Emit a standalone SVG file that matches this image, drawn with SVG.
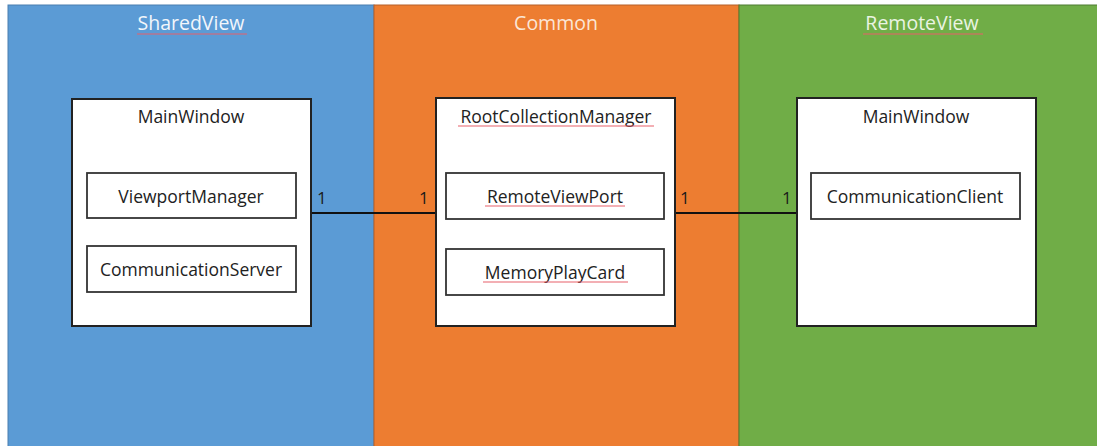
<svg xmlns="http://www.w3.org/2000/svg" width="1097" height="446" viewBox="0 0 1097 446">
  <style>
    .lane-title { font-family: "Open Sans", "Liberation Sans", sans-serif; font-size: 19.5px; text-anchor: middle; }
    .label { font-family: "Open Sans", "Liberation Sans", sans-serif; font-size: 17.5px; fill: #222222; text-anchor: middle; }
    .mult { font-family: "Open Sans", "Liberation Sans", sans-serif; font-size: 17px; fill: #1a1a1a; }
    .outer { fill: #ffffff; stroke: #222222; stroke-width: 2; }
    .inner { fill: #ffffff; stroke: #333333; stroke-width: 1.8; }
    .spell { fill: none; stroke: #e8606a; stroke-width: 1.2; }
    .link { stroke: #111111; stroke-width: 2; fill: none; }
  </style>

  <rect x="0" y="0" width="1097" height="446" fill="#ffffff"/>

  <!-- swim lanes -->
  <g id="lanes">
    <rect x="8" y="5" width="366" height="442" fill="#5B9BD5" stroke="#4a7fb0" stroke-width="1"/>
    <rect x="374" y="5" width="365" height="442" fill="#ED7D31" stroke="#b6602a" stroke-width="1"/>
    <rect x="739" y="5" width="359" height="442" fill="#70AD47" stroke="#4f7d33" stroke-width="1"/>
    <text class="lane-title" x="191" y="30" fill="#f2f6fb">SharedView</text>
    <path class="spell" d="M137 34 h110"/>
    <text class="lane-title" x="556" y="30" fill="#fbe6d6">Common</text>
    <text class="lane-title" x="922" y="30" fill="#eaf4e2">RemoteView</text>
    <path class="spell" d="M863 34 h120" stroke="#c8663a"/>
  </g>

  <!-- connectors -->
  <g id="connectors">
    <line class="link" x1="311" y1="213" x2="436" y2="213"/>
    <line class="link" x1="675" y1="213" x2="797" y2="213"/>
    <text class="mult" x="317" y="204">1</text>
    <text class="mult" x="419" y="204">1</text>
    <text class="mult" x="680" y="204">1</text>
    <text class="mult" x="782" y="204">1</text>
  </g>

  <!-- SharedView main window -->
  <g id="shared-mainwindow">
    <rect class="outer" x="72" y="99" width="239" height="227"/>
    <text class="label" x="191" y="123">MainWindow</text>
    <g id="viewport-manager">
      <rect class="inner" x="87" y="173" width="209" height="45"/>
      <text class="label" x="191" y="203">ViewportManager</text>
    </g>
    <g id="communication-server">
      <rect class="inner" x="87" y="246" width="209" height="46"/>
      <text class="label" x="191" y="276">CommunicationServer</text>
    </g>
  </g>

  <!-- Common root collection manager -->
  <g id="root-collection-manager">
    <rect class="outer" x="436" y="98" width="239" height="228"/>
    <text class="label" x="556" y="123">RootCollectionManager</text>
    <path class="spell" d="M458 126 h196"/>
    <g id="remote-viewport">
      <rect class="inner" x="446" y="173" width="218" height="46"/>
      <text class="label" x="555" y="203">RemoteViewPort</text>
      <path class="spell" d="M485 206 h140"/>
    </g>
    <g id="memory-play-card">
      <rect class="inner" x="446" y="249" width="218" height="46"/>
      <text class="label" x="555" y="279">MemoryPlayCard</text>
      <path class="spell" d="M483 282 h145"/>
    </g>
  </g>

  <!-- RemoteView main window -->
  <g id="remote-mainwindow">
    <rect class="outer" x="797" y="98" width="239" height="228"/>
    <text class="label" x="916" y="123">MainWindow</text>
    <g id="communication-client">
      <rect class="inner" x="811" y="173" width="209" height="46"/>
      <text class="label" x="915" y="203">CommunicationClient</text>
    </g>
  </g>
</svg>
